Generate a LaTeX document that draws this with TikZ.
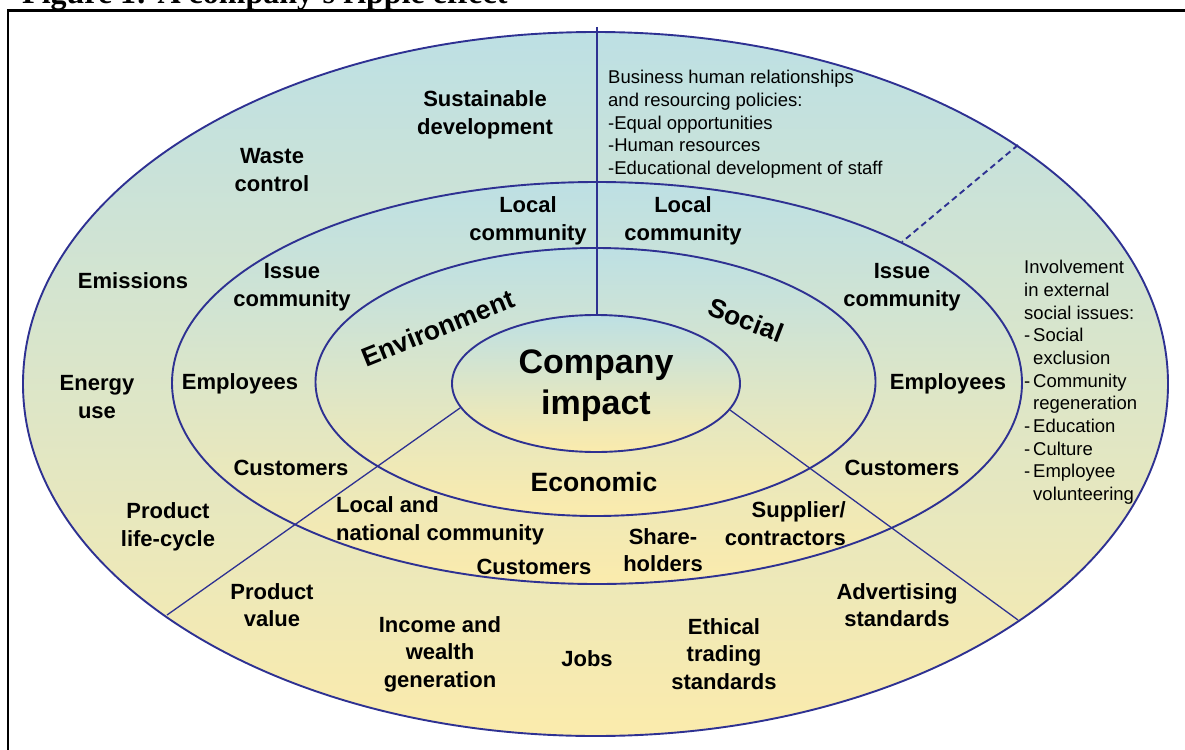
\documentclass[tikz,border=0pt]{standalone}
\usepackage{fontspec}
\setmainfont{Liberation Sans}
\newfontfamily\titlefont{Liberation Serif}
\definecolor{ringblue}{RGB}{46,49,146}
\definecolor{skyfill}{RGB}{189,224,228}
\definecolor{sandfill}{RGB}{251,235,172}
\begin{document}
\begin{tikzpicture}[x=1pt,y=-1pt,
  ring/.style={draw=ringblue, line width=1.9pt, top color=skyfill, bottom color=sandfill},
  divider/.style={draw=ringblue, line width=1.3pt},
  label/.style={align=center, inner sep=0pt, font=\bfseries\fontsize{22}{27.5}\selectfont},
  sector/.style={align=center, inner sep=0pt, font=\bfseries\fontsize{26.5}{30}\selectfont},
  note/.style={align=left, inner sep=0pt, font=\fontsize{18.5}{22.7}\selectfont}]
\useasboundingbox (0,0) rectangle (1185,749);
\clip (0,0) rectangle (1185,749);

% heading and frame
\node[anchor=base west, inner sep=0pt, font=\titlefont\bfseries\fontsize{32}{38}\selectfont] (title) at (22,3.5) {Figure 1: A company’s ripple effect};
\draw[line width=2.4pt] (8,770) -- (8,10.5) -- (1210,10.5);

% the four rings, each shaded from blue (top) to sand (bottom)
\path[ring] (595.5,384) ellipse [x radius=572.5pt, y radius=352pt];
\path[ring] (597,383) ellipse [x radius=425pt, y radius=201pt];
\path[ring] (595.5,382) ellipse [x radius=280pt, y radius=134pt];
\path[ring] (596,383.5) ellipse [x radius=144pt, y radius=68.5pt];

% dividers between the sectors
\coordinate (vtop) at (597,27);
\coordinate (vbot) at (597,315);
\coordinate (ldin) at (460,408);
\coordinate (ldout) at (167,615);
\coordinate (rdin) at (730,410);
\coordinate (rdout) at (1018,620);
\coordinate (dsout) at (1018,145);
\coordinate (dsin) at (902,242);
\draw[divider, line width=1.5pt] (vtop) -- (vbot);
\draw[divider] (ldin) -- (ldout);
\draw[divider] (rdin) -- (rdout);
\draw[draw=ringblue, line width=1.9pt, dash pattern=on 6pt off 4pt] (dsout) -- (dsin);

% centre
\node[align=center, inner sep=0pt, font=\bfseries\fontsize{34}{41}\selectfont] (core) at (596,386) {Company\\impact};
\node[sector, rotate=22] (env) at (438,328) {Environment};
\node[sector, rotate=-21] (soc) at (746,320) {Social};
\node[sector] (eco) at (594,482) {Economic};

% middle ring
\node[label] (lcl) at (528,221) {Local\\community};
\node[label] (lcr) at (683,221) {Local\\community};
\node[label] (icl) at (292,287) {Issue\\community};
\node[label] (icr) at (902,287) {Issue\\community};
\node[label] (eml) at (240,384) {Employees};
\node[label] (emr) at (948,384) {Employees};
\node[label] (cul) at (291,468) {Customers};
\node[label] (cur) at (902,468) {Customers};
\node[label, anchor=west, align=left] (lnc) at (336,521) {Local and\\national community};
\node[label] (cub) at (534,567) {Customers};
\node[label] (shh) at (663,550) {Share-\\holders};
\node[label, anchor=east, align=right] (sup) at (846,523.5) {Supplier/\\contractors};

% outer ring
\node[label] (sus) at (485,115) {Sustainable\\development};
\node[label] (was) at (272,170) {Waste\\control};
\node[label] (emi) at (133,281) {Emissions};
\node[label] (ene) at (97,397) {Energy\\use};
\node[label] (plc) at (168,527) {Product\\life-cycle};
\node[label] (pvl) at (272,605) {Product\\value};
\node[label] (inc) at (440,654) {Income and\\wealth\\generation};
\node[label] (job) at (587,659) {Jobs};
\node[label] (eth) at (724,654) {Ethical\\trading\\standards};
\node[label] (adv) at (897,605) {Advertising\\standards};

% explanatory notes
\node[note, anchor=north west] (hrnote) at (608,70) {Business human relationships\\and resourcing policies:\\-Equal opportunities\\-Human resources\\-Educational development of staff};
\node[note, anchor=north west] (extnote) at (1024,260) {Involvement\\in external\\social issues:\\\makebox[9pt][l]{-}Social\\\hspace*{9pt}exclusion\\\makebox[9pt][l]{-}Community\\\hspace*{9pt}regeneration\\\makebox[9pt][l]{-}Education\\\makebox[9pt][l]{-}Culture\\\makebox[9pt][l]{-}Employee\\\hspace*{9pt}volunteering};
\end{tikzpicture}
\end{document}
